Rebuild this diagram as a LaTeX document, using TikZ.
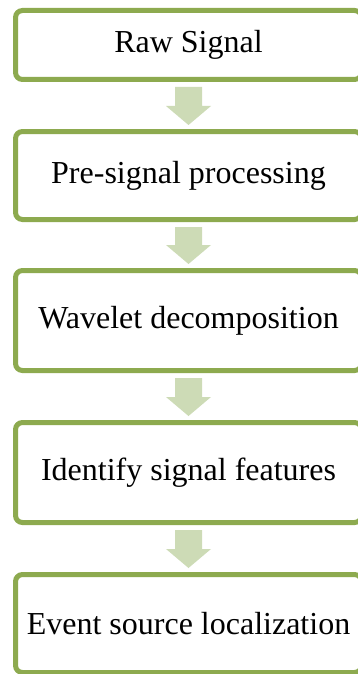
\documentclass[tikz,border=0pt]{standalone}
\usepackage{fontspec}
\setmainfont{Liberation Serif}
\usetikzlibrary{calc}
\definecolor{boxline}{HTML}{8DAA4F}
\definecolor{arrowfill}{HTML}{CDDBB6}
\tikzset{
  stepbox/.style={draw=boxline, line width=5pt, rounded corners=7pt, fill=white,
    minimum width=346pt, inner sep=0pt, font=\fontsize{32}{38}\selectfont, text=black},
}
\newcommand{\flowarrow}[2]{%
  \fill[arrowfill] ($(#1.south)+(-13.5,5)$) -- ($(#1.south)+(13.5,5)$)
    -- ($(#2.north)+(13.5,-23)$) -- ($(#2.north)+(22.5,-23)$)
    -- ($(#2.north)+(0,-4)$) -- ($(#2.north)+(-22.5,-23)$)
    -- ($(#2.north)+(-13.5,-23)$) -- cycle;}
\begin{document}
\begin{tikzpicture}[x=1pt,y=-1pt]
\useasboundingbox (0,0) rectangle (357,674);
\node[stepbox, minimum height=69pt] (b1) at (188.5,45) {Raw Signal};
\node[stepbox, minimum height=88pt] (b2) at (188.5,175.5) {Pre-signal processing};
\node[stepbox, minimum height=100pt] (b3) at (188.5,320.5) {Wavelet decomposition};
\node[stepbox, minimum height=100pt] (b4) at (188.5,472.5) {Identify signal features};
\node[stepbox, minimum height=98pt] (b5) at (188.5,623.5) {Event source localization};
\flowarrow{b1}{b2}
\flowarrow{b2}{b3}
\flowarrow{b3}{b4}
\flowarrow{b4}{b5}
\end{tikzpicture}
\end{document}
